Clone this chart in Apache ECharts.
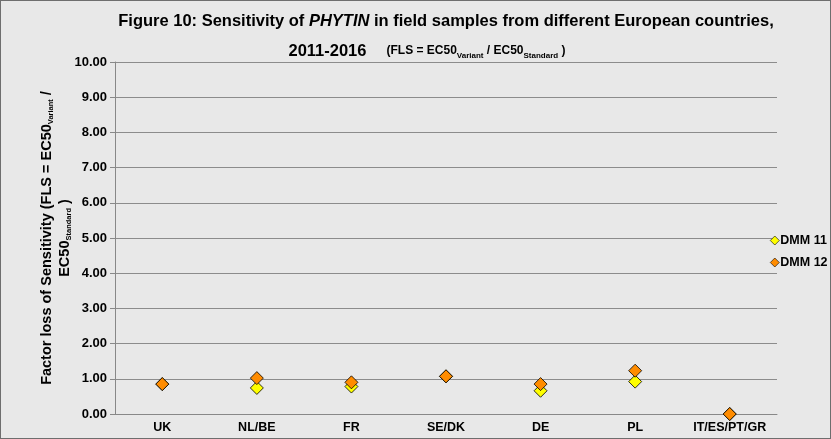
<!DOCTYPE html>
<html><head><meta charset="utf-8">
<script src="https://cdn.jsdelivr.net/npm/echarts@6/dist/echarts.min.js"></script>
<style>
html,body{margin:0;padding:0;background:#e8e8e8;}
#c{width:831px;height:439px;box-sizing:border-box;border:1px solid #6e6e6e;background:#e8e8e8;}
</style></head><body>
<div id="c"></div>
<script>
const categories = ['UK','NL/BE','FR','SE/DK','DE','PL','IT/ES/PT/GR'];
const dmm11 = [0.85, 0.74, 0.78, 1.07, 0.66, 0.92, 0.0];
const dmm12 = [0.85, 1.02, 0.90, 1.07, 0.85, 1.23, 0.0];
const seriesNames = ['DMM 11','DMM 12'];
const yTicks = {min:0, max:10, interval:1};

const chart = echarts.init(document.getElementById('c'));
const F = 'Arial, "Liberation Sans", sans-serif';
chart.setOption({
  animation:false,
  backgroundColor:'#e8e8e8',
  title:{
    left:440, top:0, textAlign:'center',
    text:'Figure 10: Sensitivity of {i|PHYTIN} in field samples from different European countries,\n{b|2011-2016}{gap| }{s|(FLS = EC50}{sub|Variant}{s| / EC50}{sub|Standard}{s| )}{pad| }',
    textStyle:{
      fontFamily:F, fontSize:16.5, fontWeight:'bold', color:'#000', lineHeight:30,
      rich:{
        i:{fontFamily:F,fontSize:16.5,fontWeight:'bold',fontStyle:'italic',color:'#000',lineHeight:30},
        b:{fontFamily:F,fontSize:16.5,fontWeight:'bold',color:'#000',lineHeight:30},
        gap:{width:20,lineHeight:30},
        pad:{width:38,lineHeight:30},
        s:{fontFamily:F,fontSize:12,fontWeight:'bold',color:'#000',lineHeight:30},
        sub:{fontFamily:F,fontSize:8,fontWeight:'bold',color:'#000',lineHeight:30,padding:[9,0,0,0]}
      }
    }
  },
  legend:{
    orient:'vertical', left:764, top:228, itemGap:9,
    itemWidth:9, itemHeight:9, icon:'diamond',
    itemStyle:{borderColor:'#000',borderWidth:0.6},
    textStyle:{fontFamily:F,fontSize:12.5,fontWeight:'bold',color:'#000',padding:[0,0,0,-4]},
    data:seriesNames
  },
  grid:{left:114, right:53, top:61, bottom:24},
  xAxis:{
    type:'category', data:categories,
    axisLine:{lineStyle:{color:'#888'}},
    axisTick:{show:false},
    axisLabel:{interval:0,fontFamily:F,fontSize:12.5,fontWeight:'bold',color:'#000',margin:7}
  },
  yAxis:{
    type:'value', min:yTicks.min, max:yTicks.max, interval:yTicks.interval,
    name:'Factor loss of Sensitivity (FLS = EC50{sub|Variant} /\nEC50{sub|Standard} )',
    nameLocation:'middle', nameRotate:90, nameGap:41, nameMoveOverlap:false,
    nameTextStyle:{fontFamily:F,fontSize:14.5,fontWeight:'bold',color:'#000',lineHeight:18,
      rich:{sub:{fontFamily:F,fontSize:7.5,fontWeight:'bold',color:'#000',lineHeight:18,padding:[8,0,0,0]}}},
    axisLine:{show:true,lineStyle:{color:'#888'}},
    axisTick:{show:true,length:5,lineStyle:{color:'#888'}},
    splitLine:{lineStyle:{color:'#8c8c8c'}},
    axisLabel:{fontFamily:F,fontSize:13,fontWeight:'bold',color:'#000',margin:8,
      formatter:v=>v.toFixed(2)}
  },
  series:[
    {name:seriesNames[0],type:'scatter',symbol:'diamond',symbolSize:13,data:dmm11,
     itemStyle:{color:'#ffff00',borderColor:'#000',borderWidth:0.8,opacity:1}},
    {name:seriesNames[1],type:'scatter',symbol:'diamond',symbolSize:13,data:dmm12,
     itemStyle:{color:'#ff8c00',borderColor:'#000',borderWidth:0.8,opacity:1}}
  ]
});
</script></body></html>
